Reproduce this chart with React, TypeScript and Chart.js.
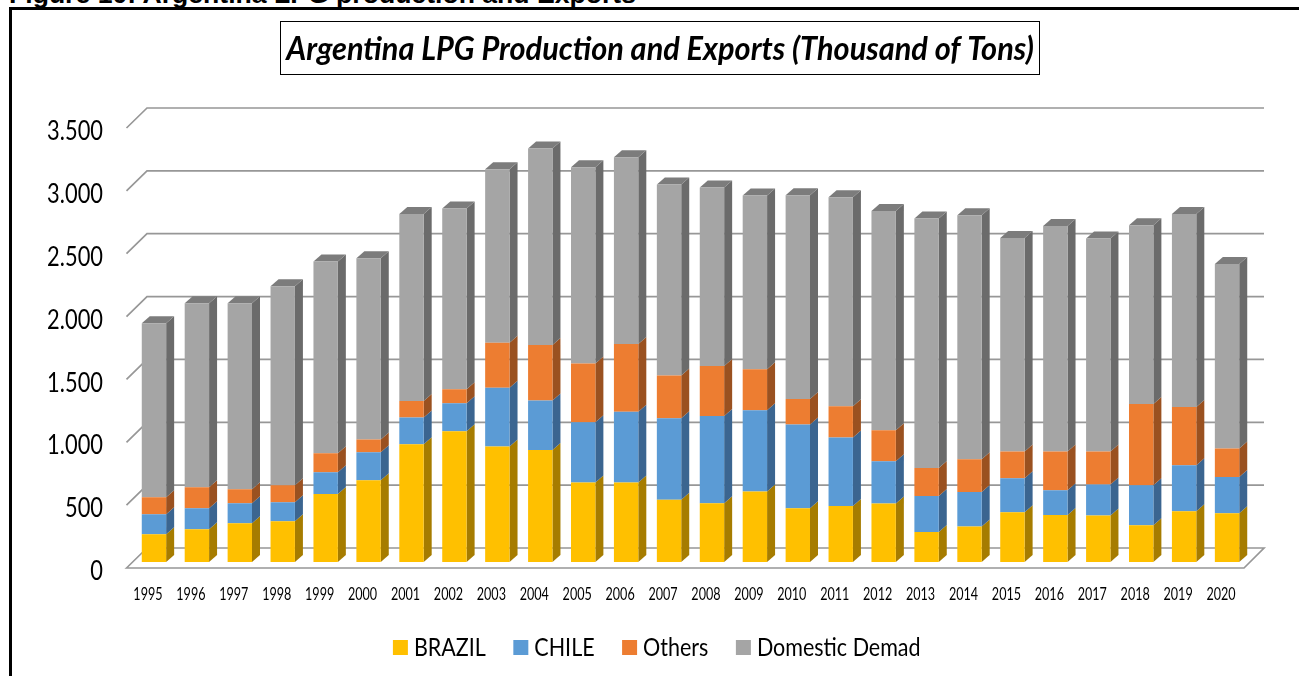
import React, { useEffect, useRef } from "react";
import { Chart, registerables } from "chart.js";

Chart.register(...registerables);

const years = ["1995","1996","1997","1998","1999","2000","2001","2002","2003","2004","2005","2006","2007","2008","2009","2010","2011","2012","2013","2014","2015","2016","2017","2018","2019","2020"];
const brazil = [220,260,308,324,541,650,936,1040,918,891,632,632,496,467,560,427,445,465,239,282,395,374,369,292,403,387];
const chile = [159,167,159,151,173,223,213,222,469,393,479,564,647,694,647,666,545,336,286,275,271,196,247,318,366,289];
const others = [136,167,111,135,151,101,132,112,358,442,467,538,340,398,326,204,249,247,223,260,212,308,262,647,464,226];
const domestic = [1384,1464,1480,1583,1525,1442,1487,1437,1379,1563,1562,1485,1519,1419,1382,1620,1662,1744,1984,1941,1699,1795,1695,1421,1535,1469];

const titleText = "Argentina LPG Production and Exports (Thousand of Tons)";
const headerText = "Figure 10: Argentina LPG production and Exports";
const FONT = 'Lato, "Noto Sans", sans-serif';

const faceColors = ["#A67C00", "#3B6590", "#9A5120", "#6B6B6B"];
const topColor = "#7C7C7C";
const DX = 8;
const DY = 7;

// The reference's lettering is condensed; squeeze canvas text horizontally per font size.
const SQUEEZE: Record<number, number> = { 32: 0.96, 25: 0.86, 27: 0.81, 17: 0.74 };

function condenseText(ctx: any) {
  const fill = ctx.fillText.bind(ctx);
  const measure = ctx.measureText.bind(ctx);
  const factor = () => {
    const m = /(\d+(?:\.\d+)?)px/.exec(ctx.font);
    return (m && SQUEEZE[Math.round(parseFloat(m[1]))]) || 1;
  };
  ctx.fillText = (t: string, x: number, y: number, mw?: number) => {
    const f = factor();
    ctx.save();
    ctx.translate(x, y);
    ctx.scale(f, 1);
    if (mw === undefined) fill(t, 0, 0);
    else fill(t, 0, 0, mw / f);
    ctx.restore();
  };
  ctx.measureText = (t: string) => {
    const r = measure(t);
    return { width: r.width * factor(), actualBoundingBoxAscent: r.actualBoundingBoxAscent, actualBoundingBoxDescent: r.actualBoundingBoxDescent };
  };
}

const wallsAndDepth = {
  id: "wallsAndDepth",
  beforeDatasetsDraw(chart: any) {
    const { ctx, chartArea: a, scales } = chart;
    const y = scales.y;
    ctx.save();
    ctx.strokeStyle = "#979797";
    ctx.lineWidth = 1.7;
    for (const t of y.ticks) {
      const p = y.getPixelForValue(t.value);
      ctx.beginPath();
      ctx.moveTo(a.left - 6, p + 6);
      ctx.lineTo(a.left + 14.5, p - 14);
      ctx.lineTo(a.right + 15.5, p - 14);
      if (t.value === 0) {
        ctx.lineTo(a.right - 4.5, p + 6);
        ctx.closePath();
      }
      ctx.stroke();
    }
    chart.data.datasets.forEach((_: any, di: number) => {
      const meta = chart.getDatasetMeta(di);
      meta.data.forEach((bar: any) => {
        const props = bar.getProps(["x", "y", "base", "width"], true);
        const r = props.x + props.width / 2;
        const l = props.x - props.width / 2;
        ctx.fillStyle = faceColors[di];
        ctx.beginPath();
        ctx.moveTo(r, props.base);
        ctx.lineTo(r + DX, props.base - DY);
        ctx.lineTo(r + DX, props.y - DY);
        ctx.lineTo(r, props.y);
        ctx.closePath();
        ctx.fill();
        if (di === chart.data.datasets.length - 1) {
          ctx.fillStyle = topColor;
          ctx.beginPath();
          ctx.moveTo(l, props.y);
          ctx.lineTo(l + DX, props.y - DY);
          ctx.lineTo(r + DX, props.y - DY);
          ctx.lineTo(r, props.y);
          ctx.closePath();
          ctx.fill();
        }
      });
    });
    ctx.restore();
  },
  afterDraw(chart: any) {
    const { ctx } = chart;
    ctx.save();
    ctx.strokeStyle = "#000";
    ctx.lineWidth = 1;
    ctx.strokeRect(280.5, 21.5, 759, 53);
    ctx.restore();
  },
};

export default function App() {
  const ref = useRef<HTMLCanvasElement>(null);
  useEffect(() => {
    const mk = (label: string, data: number[], color: string) => ({
      label,
      data,
      backgroundColor: color,
      borderWidth: 0,
      barPercentage: 0.568,
      categoryPercentage: 1,
    });
    const canvas = ref.current!;
    condenseText(canvas.getContext("2d"));
    const BOTTOM = 6;
    const chart = new Chart(canvas, {
      type: "bar",
      data: {
        labels: years,
        datasets: [
          mk("BRAZIL", brazil, "#FFC000"),
          mk("CHILE", chile, "#5B9BD5"),
          mk("Others", others, "#ED7D31"),
          mk("Domestic Demad", domestic, "#A5A5A5"),
        ],
      },
      options: {
        responsive: false,
        animation: false,
        layout: { padding: { left: 21, right: 0, top: 0, bottom: BOTTOM } },
        plugins: {
          tooltip: { enabled: false },
          title: {
            display: true,
            text: titleText,
            color: "#000",
            font: { family: FONT, size: 32, weight: "bold", style: "italic", lineHeight: 1.2 },
            padding: { top: 30.3, bottom: 53.3 },
          },
          legend: {
            position: "bottom",
            labels: {
              color: "#000",
              font: { family: FONT, size: 25 },
              usePointStyle: true,
              pointStyle: "rect",
              boxWidth: 2,
              boxHeight: 15,
              padding: 34,
            },
          },
        },
        scales: {
          x: {
            stacked: true,
            grid: { display: false, drawTicks: false },
            border: { display: false },
            afterFit(s: any) {
              s.height = 676 - BOTTOM - (s.chart.legend?.height ?? 0) - 562;
            },
            ticks: {
              autoSkip: false,
              maxRotation: 0,
              minRotation: 0,
              labelOffset: -6,
              padding: 22,
              color: "#000",
              font: { family: FONT, size: 17 },
            },
          },
          y: {
            stacked: true,
            min: 0,
            max: 3500,
            grid: { display: false, drawTicks: false },
            border: { display: false },
            afterFit(s: any) {
              s.width = 111.5;
            },
            ticks: {
              stepSize: 500,
              padding: 29.5,
              labelOffset: 9.5,
              color: "#000",
              font: { family: FONT, size: 27 },
              callback: (v: any) =>
                v < 1000 ? String(v) : `${Math.floor(v / 1000)}.${String(v % 1000).padStart(3, "0")}`,
            },
          },
          yRight: {
            position: "right",
            display: true,
            grid: { display: false, drawTicks: false },
            border: { display: false },
            ticks: { display: false },
            afterFit(s: any) {
              s.width = 50.5;
            },
          },
        },
      },
      plugins: [wallsAndDepth],
    } as any);
    return () => chart.destroy();
  }, []);
  return (
    <div style={{ position: "absolute", left: 0, top: 0, width: 1299, height: 676, overflow: "hidden", background: "#fff" }}>
      <div
        style={{
          position: "absolute",
          left: 9,
          top: -19,
          whiteSpace: "nowrap",
          font: 'bold 26.6px/27px "Liberation Sans", Arial, sans-serif',
          color: "#000",
        }}
      >
        {headerText}
      </div>
      <div
        style={{
          position: "absolute",
          left: 9,
          top: 7,
          width: 1290,
          height: 669,
          borderLeft: "3px solid #000",
          borderTop: "3px solid #000",
          boxSizing: "border-box",
        }}
      />
      <canvas ref={ref} width={1299} height={676} style={{ position: "absolute", left: 0, top: 0, width: 1299, height: 676 }} />
    </div>
  );
}
